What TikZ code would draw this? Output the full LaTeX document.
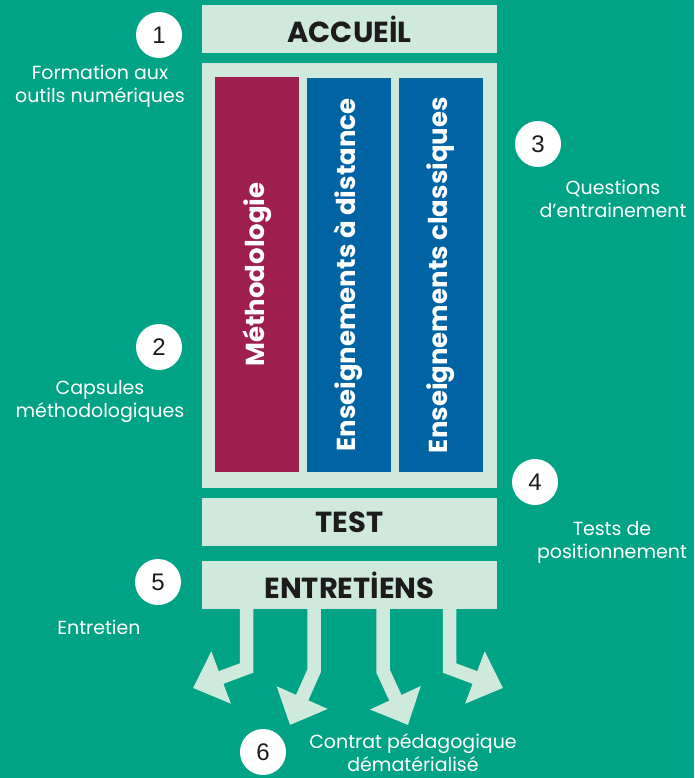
\documentclass[tikz,border=0pt]{standalone}
\usepackage{fontspec}
\setmainfont{Poppins}
\newfontfamily\numfont{Liberation Sans}
\usetikzlibrary{positioning,arrows.meta}

\definecolor{fond}{HTML}{00A386}
\definecolor{pale}{HTML}{D0E9DD}
\definecolor{bordeaux}{HTML}{9E1F4E}
\definecolor{bleu}{HTML}{0063A3}
\definecolor{encre}{HTML}{1C1C1C}

\tikzset{
  bloc/.style={fill=pale, minimum width=295pt, minimum height=48pt, inner sep=0pt,
    text=encre, font=\fontsize{29}{29}\selectfont\bfseries},
  colonne/.style={rotate=90, minimum width=394pt, minimum height=84pt, inner sep=0pt,
    text=white, font=\fontsize{26}{26}\selectfont\bfseries},
  pastille/.style={circle, fill=white, minimum size=46pt, inner sep=0pt,
    text=encre, font=\numfont\fontsize{24}{24}\selectfont},
  legende/.style={text=white, align=center, inner sep=0pt, font=\fontsize{19}{23}\selectfont},
  fleche/.style={draw=pale, line width=13.5pt, -{Triangle[width=54pt,length=30pt]}}
}

\begin{document}
\begin{tikzpicture}[x=1pt,y=-1pt]
   \fill[fond] (0,0) rectangle (694,778);
   \useasboundingbox (0,0) rectangle (694,778);

   % blocs centraux
   \node[bloc] (accueil) at (349.5,29) {ACCUEİL};
   \node[fill=pale, minimum width=295pt, minimum height=425pt, inner sep=0pt] (cadre) at (349.5,275.5) {};
   \node[colonne, fill=bordeaux] (metho) at (257,274.5) {Méthodologie};
   \node[colonne, fill=bleu] (distance) at (348.5,275) {Enseignements à distance};
   \node[colonne, fill=bleu] (classiques) at (440.5,275) {Enseignements classiques};
   \node[bloc] (test) at (349.5,522) {TEST};
   \node[bloc] (entretiens) at (349.5,585) {ENTRETİENS};

   % pastilles numerotees
   \node[pastille] (n1) at (159,35) {1};
   \node[pastille] (n2) at (159,347) {2};
   \node[pastille] (n3) at (538,144) {3};
   \node[pastille] (n4) at (535,482) {4};
   \node[pastille] (n5) at (158,582) {5};
   \node[pastille] (n6) at (263,752) {6};

   \node[legende] (l1) at (100,86) {Formation aux\\outils numériques};
   \node[legende] (l2) at (100,402) {Capsules\\méthodologiques};
   \node[legende] (l3) at (613,199) {Questions\\d’entrainement};
   \node[legende] (l4) at (612,542) {Tests de\\positionnement};
   \node[legende] (l5) at (99,627) {Entretien};
   \node[legende] (l6) at (413,753) {Contrat pédagogique\\dématérialisé};

   % fleches de sortie
   \coordinate (c1) at (246.5,668);
   \coordinate (p1) at (193,688);
   \coordinate (c2) at (314,671);
   \coordinate (p2) at (290,725);
   \coordinate (c3) at (383,671);
   \coordinate (p3) at (408,725);
   \coordinate (c4) at (449.5,668);
   \coordinate (p4) at (503,688);
   \draw[fleche] (entretiens.south -| c1) -- (c1) -- (p1);
   \draw[fleche] (entretiens.south -| c2) -- (c2) -- (p2);
   \draw[fleche] (entretiens.south -| c3) -- (c3) -- (p3);
   \draw[fleche] (entretiens.south -| c4) -- (c4) -- (p4);
\end{tikzpicture}
\end{document}
